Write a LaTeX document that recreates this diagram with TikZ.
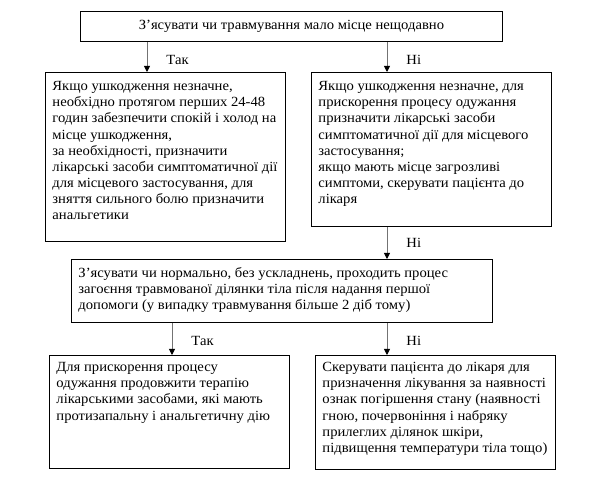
\documentclass[tikz,border=0pt]{standalone}
\usepackage{fontspec}
\setmainfont{Liberation Serif}[FakeStretch=1.045]
\usetikzlibrary{arrows.meta}
\newcommand{\celltext}[3]{\parbox[c][#2][t]{#1}{\raggedright\strut #3}}

\begin{document}
\begin{tikzpicture}[x=1pt, y=-1pt,
		cell/.style={draw, line width=0.9pt, anchor=north west, inner xsep=7pt, inner ysep=7pt},
		arr/.style={draw=black!55, line width=0.9pt, -{Triangle[width=6pt, length=6pt, color=black]}},
		lbl/.style={anchor=west, inner sep=0pt, xshift=19pt},
		font=\fontsize{14}{16.1}\selectfont]
			%%%%% START %%%%%
			
			\useasboundingbox (0, 0) rectangle (600, 486);
			
			\node[draw, line width=0.9pt, anchor=north west, inner sep=0pt, minimum width=422, minimum height=30] (q1) at (80, 11) {З’ясувати чи травмування мало місце нещодавно};
			
			\node[cell] (yes1) at (45, 72) {\celltext{226pt}{155pt}{Якщо ушкодження незначне,\\ необхідно протягом перших 24-48\\ годин забезпечити спокій і холод на\\ місце ушкодження,\\ за необхідності, призначити\\ лікарські засоби симптоматичної дії\\ для місцевого застосування, для\\ зняття сильного болю призначити\\ анальгетики}};
			\node[cell] (no1) at (311, 72) {\celltext{226pt}{140pt}{Якщо ушкодження незначне, для\\ прискорення процесу одужання\\ призначити лікарські засоби\\ симптоматичної дії для місцевого\\ застосування;\\ якщо мають місце загрозливі\\ симптоми, скерувати пацієнта до\\ лікаря}};
			
			\node[cell] (q2) at (71, 259) {\celltext{407pt}{49pt}{З’ясувати чи нормально, без ускладнень, проходить процес\\ загоєння травмованої ділянки тіла після надання першої\\ допомоги (у випадку травмування більше 2 діб тому)}};
			
			\node[cell, inner ysep=5pt] (yes2) at (49, 355) {\celltext{226pt}{103pt}{Для прискорення процесу\\ одужання продовжити терапію\\ лікарськими засобами, які мають\\ протизапальну і анальгетичну дію}};
			\node[cell, inner ysep=5pt] (no2) at (315, 355) {\celltext{226pt}{104pt}{Скерувати пацієнта до лікаря для\\ призначення лікування за наявності\\ ознак погіршення стану (наявності\\ гною, почервоніння і набряку\\ прилеглих ділянок шкіри,\\ підвищення температури тіла тощо)}};
			
			\coordinate (c1) at (147, 0);
			\coordinate (c2) at (387, 0);
			\coordinate (c3) at (172, 0);
			
			\draw[arr] (q1.south -| c1) -- node[lbl, pos=0.6] (t1) {Так} (yes1.north -| c1);
			\draw[arr] (q1.south -| c2) -- node[lbl, pos=0.6] (n1) {Ні} (no1.north -| c2);
			\draw[arr] (no1.south -| c2) -- node[lbl, pos=0.5] (n2) {Ні} (q2.north -| c2);
			\draw[arr] (q2.south -| c3) -- node[lbl, pos=0.55] (t2) {Так} (yes2.north -| c3);
			\draw[arr] (q2.south -| c2) -- node[lbl, pos=0.55] (n3) {Ні} (no2.north -| c2);
			
			%%%%% END %%%%%
		\end{tikzpicture}
\end{document}
